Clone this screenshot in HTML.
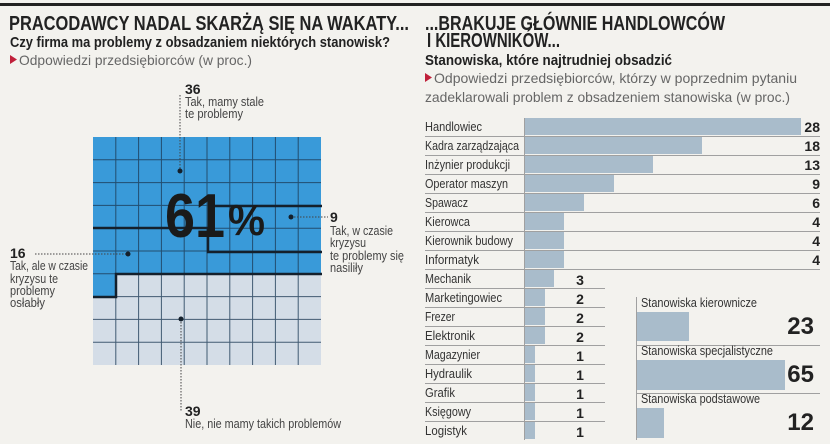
<!DOCTYPE html>
<html><head><meta charset="utf-8"><style>
html,body{margin:0;padding:0;background:#f3f2ee;}
svg{display:block;font-family:"Liberation Sans Narrow","Liberation Sans",sans-serif;}
</style></head><body>
<svg width="830" height="444" viewBox="0 0 830 444" xmlns="http://www.w3.org/2000/svg">
<rect width="830" height="444" fill="#f3f2ee"/>
<rect x="0" y="3" width="830" height="3" fill="#222"/>
<text x="9" y="30" font-size="20" font-weight="bold" fill="#222" textLength="400" lengthAdjust="spacingAndGlyphs">PRACODAWCY NADAL SKARŻĄ SIĘ NA WAKATY...</text>
<text x="10" y="47" font-size="15" font-weight="bold" fill="#222" textLength="380" lengthAdjust="spacingAndGlyphs">Czy firma ma problemy z obsadzaniem niektórych stanowisk?</text>
<polygon points="10,55 17,59.5 10,64" fill="#c0203a"/>
<text x="19" y="65" font-size="14" fill="#666" textLength="233" lengthAdjust="spacingAndGlyphs">Odpowiedzi przedsiębiorców (w proc.)</text>
<rect x="93" y="137" width="228" height="228" fill="#d4dde7"/>
<rect x="93" y="137" width="228" height="137" fill="#399ad9"/>
<rect x="93" y="274" width="23" height="23" fill="#399ad9"/>
<g stroke="#1d3a55" stroke-width="1" opacity="0.8">
<line x1="115.8" y1="137" x2="115.8" y2="365"/><line x1="138.6" y1="137" x2="138.6" y2="365"/><line x1="161.4" y1="137" x2="161.4" y2="365"/><line x1="184.2" y1="137" x2="184.2" y2="365"/><line x1="207" y1="137" x2="207" y2="365"/><line x1="229.8" y1="137" x2="229.8" y2="365"/><line x1="252.6" y1="137" x2="252.6" y2="365"/><line x1="275.4" y1="137" x2="275.4" y2="365"/><line x1="298.2" y1="137" x2="298.2" y2="365"/>
<line y1="159.8" x1="93" y2="159.8" x2="321"/><line y1="182.6" x1="93" y2="182.6" x2="321"/><line y1="205.4" x1="93" y2="205.4" x2="321"/><line y1="228.2" x1="93" y2="228.2" x2="321"/><line y1="251" x1="93" y2="251" x2="321"/><line y1="273.8" x1="93" y2="273.8" x2="321"/><line y1="296.6" x1="93" y2="296.6" x2="321"/><line y1="319.4" x1="93" y2="319.4" x2="321"/><line y1="342.2" x1="93" y2="342.2" x2="321"/>
</g>
<g stroke="#14202c" stroke-width="2.5" fill="none">
<polyline points="93,228 208,228 208,252 322,252"/>
<line x1="208" y1="206" x2="322" y2="206"/>
<polyline points="322,274 116,274 116,297 93,297"/>
</g>
<text x="165" y="237" font-size="62" font-weight="bold" fill="#1a1a1a" textLength="60" lengthAdjust="spacingAndGlyphs">61</text>
<text x="228" y="235" font-size="44" font-weight="bold" fill="#1a1a1a" textLength="37" lengthAdjust="spacingAndGlyphs">%</text>
<g stroke="#444" stroke-width="1" stroke-dasharray="1.5,1.5">
<line x1="180" y1="95" x2="180" y2="171"/>
<line x1="291" y1="217" x2="328" y2="217"/>
<line x1="35" y1="254" x2="128" y2="254"/>
<line x1="181" y1="319" x2="181" y2="412"/>
</g>
<g fill="#14202c"><circle cx="180" cy="171" r="2.5"/><circle cx="291" cy="217" r="2.5"/><circle cx="128" cy="254" r="2.5"/><circle cx="181" cy="319" r="2.5"/></g>
<g font-size="13" fill="#444" lengthAdjust="spacingAndGlyphs">
<text x="185" y="94" font-weight="bold" font-size="14" fill="#222">36</text>
<text x="185" y="106" textLength="79" lengthAdjust="spacingAndGlyphs">Tak, mamy stale</text>
<text x="185" y="118" textLength="58" lengthAdjust="spacingAndGlyphs">te problemy</text>
<text x="330" y="222" font-weight="bold" font-size="14" fill="#222">9</text>
<text x="330" y="235" textLength="63" lengthAdjust="spacingAndGlyphs">Tak, w czasie</text>
<text x="330" y="247" textLength="36" lengthAdjust="spacingAndGlyphs">kryzysu</text>
<text x="330" y="260" textLength="74" lengthAdjust="spacingAndGlyphs">te problemy się</text>
<text x="330" y="272" textLength="33" lengthAdjust="spacingAndGlyphs">nasiliły</text>
<text x="10" y="258" font-weight="bold" font-size="14" fill="#222">16</text>
<text x="10" y="270" textLength="78" lengthAdjust="spacingAndGlyphs">Tak, ale w czasie</text>
<text x="10" y="283" textLength="48" lengthAdjust="spacingAndGlyphs">kryzysu te</text>
<text x="10" y="295" textLength="45" lengthAdjust="spacingAndGlyphs">problemy</text>
<text x="10" y="307" textLength="35" lengthAdjust="spacingAndGlyphs">osłabły</text>
<text x="185" y="416" font-weight="bold" font-size="14" fill="#222">39</text>
<text x="185" y="428" textLength="156" lengthAdjust="spacingAndGlyphs">Nie, nie mamy takich problemów</text>
</g>
<text x="425" y="30" font-size="20" font-weight="bold" fill="#222" textLength="300" lengthAdjust="spacingAndGlyphs">...BRAKUJE GŁÓWNIE HANDLOWCÓW</text>
<text x="427" y="47" font-size="20" font-weight="bold" fill="#222" textLength="133" lengthAdjust="spacingAndGlyphs">I KIEROWNIKÓW...</text>
<text x="425" y="65" font-size="15" font-weight="bold" fill="#222" textLength="247" lengthAdjust="spacingAndGlyphs">Stanowiska, które najtrudniej obsadzić</text>
<polygon points="425,73 432,77.5 425,82" fill="#c0203a"/>
<text x="434" y="83" font-size="14" fill="#666" textLength="363" lengthAdjust="spacingAndGlyphs">Odpowiedzi przedsiębiorców, którzy w poprzednim pytaniu</text>
<text x="425" y="102" font-size="14" fill="#666" textLength="365" lengthAdjust="spacingAndGlyphs">zadeklarowali problem z obsadzeniem stanowiska (w proc.)</text>
<g fill="#a9bccb">
<rect x="525" y="118" width="276" height="17"/>
<rect x="525" y="137" width="177" height="17"/>
<rect x="525" y="156" width="128" height="17"/>
<rect x="525" y="175" width="89" height="17"/>
<rect x="525" y="194" width="59" height="17"/>
<rect x="525" y="213" width="39" height="17"/>
<rect x="525" y="232" width="39" height="17"/>
<rect x="525" y="251" width="39" height="17"/>
<rect x="525" y="270" width="29" height="17"/>
<rect x="525" y="289" width="20" height="17"/>
<rect x="525" y="308" width="20" height="17"/>
<rect x="525" y="327" width="20" height="17"/>
<rect x="525" y="346" width="10" height="17"/>
<rect x="525" y="365" width="10" height="17"/>
<rect x="525" y="384" width="10" height="17"/>
<rect x="525" y="403" width="10" height="17"/>
<rect x="525" y="422" width="10" height="17"/>
<rect x="637" y="312" width="52" height="29"/>
<rect x="637" y="360" width="148" height="30"/>
<rect x="637" y="408" width="27" height="30"/>
</g>
<g stroke="#a0a0a0" stroke-width="1">
<line x1="425" y1="136.5" x2="820" y2="136.5"/><line x1="425" y1="155.5" x2="820" y2="155.5"/><line x1="425" y1="174.5" x2="820" y2="174.5"/><line x1="425" y1="193.5" x2="820" y2="193.5"/><line x1="425" y1="212.5" x2="820" y2="212.5"/><line x1="425" y1="231.5" x2="820" y2="231.5"/><line x1="425" y1="250.5" x2="820" y2="250.5"/><line x1="425" y1="269.5" x2="820" y2="269.5"/>
<line x1="425" y1="288.5" x2="605" y2="288.5"/><line x1="425" y1="307.5" x2="605" y2="307.5"/><line x1="425" y1="326.5" x2="605" y2="326.5"/><line x1="425" y1="345.5" x2="605" y2="345.5"/><line x1="425" y1="364.5" x2="605" y2="364.5"/><line x1="425" y1="383.5" x2="605" y2="383.5"/><line x1="425" y1="402.5" x2="605" y2="402.5"/><line x1="425" y1="421.5" x2="605" y2="421.5"/>
<line x1="637" y1="345.5" x2="820" y2="345.5"/><line x1="637" y1="393.5" x2="820" y2="393.5"/>
<line x1="524.5" y1="118" x2="524.5" y2="440"/>
<line x1="636.5" y1="297" x2="636.5" y2="440"/>
</g>
<g font-size="13" fill="#333">
<text x="425" y="131" textLength="57" lengthAdjust="spacingAndGlyphs">Handlowiec</text>
<text x="425" y="150" textLength="94" lengthAdjust="spacingAndGlyphs">Kadra zarządzająca</text>
<text x="425" y="169" textLength="85" lengthAdjust="spacingAndGlyphs">Inżynier produkcji</text>
<text x="425" y="188" textLength="83" lengthAdjust="spacingAndGlyphs">Operator maszyn</text>
<text x="425" y="207" textLength="43" lengthAdjust="spacingAndGlyphs">Spawacz</text>
<text x="425" y="226" textLength="45" lengthAdjust="spacingAndGlyphs">Kierowca</text>
<text x="425" y="245" textLength="88" lengthAdjust="spacingAndGlyphs">Kierownik budowy</text>
<text x="425" y="264" textLength="54" lengthAdjust="spacingAndGlyphs">Informatyk</text>
<text x="425" y="283" textLength="46" lengthAdjust="spacingAndGlyphs">Mechanik</text>
<text x="425" y="302" textLength="77" lengthAdjust="spacingAndGlyphs">Marketingowiec</text>
<text x="425" y="321" textLength="30" lengthAdjust="spacingAndGlyphs">Frezer</text>
<text x="425" y="340" textLength="50" lengthAdjust="spacingAndGlyphs">Elektronik</text>
<text x="425" y="359" textLength="55" lengthAdjust="spacingAndGlyphs">Magazynier</text>
<text x="425" y="378" textLength="47" lengthAdjust="spacingAndGlyphs">Hydraulik</text>
<text x="425" y="397" textLength="30" lengthAdjust="spacingAndGlyphs">Grafik</text>
<text x="425" y="416" textLength="46" lengthAdjust="spacingAndGlyphs">Księgowy</text>
<text x="425" y="435" textLength="42" lengthAdjust="spacingAndGlyphs">Logistyk</text>
</g>
<g font-size="14" font-weight="bold" fill="#222" text-anchor="end">
<text x="820" y="132">28</text><text x="820" y="151">18</text><text x="820" y="170">13</text><text x="820" y="189">9</text><text x="820" y="208">6</text><text x="820" y="227">4</text><text x="820" y="246">4</text><text x="820" y="265">4</text>
</g>
<g font-size="14" font-weight="bold" fill="#222" text-anchor="middle">
<text x="580" y="285">3</text><text x="580" y="304">2</text><text x="580" y="323">2</text><text x="580" y="342">2</text><text x="580" y="361">1</text><text x="580" y="380">1</text><text x="580" y="399">1</text><text x="580" y="418">1</text><text x="580" y="437">1</text>
</g>
<g font-size="13" fill="#333">
<text x="641" y="307" textLength="116" lengthAdjust="spacingAndGlyphs">Stanowiska kierownicze</text>
<text x="641" y="355" textLength="132" lengthAdjust="spacingAndGlyphs">Stanowiska specjalistyczne</text>
<text x="641" y="403" textLength="119" lengthAdjust="spacingAndGlyphs">Stanowiska podstawowe</text>
</g>
<g font-size="24" font-weight="bold" fill="#222" text-anchor="end">
<text x="814" y="334">23</text><text x="814" y="382">65</text><text x="814" y="430">12</text>
</g>
</svg>
</body></html>
